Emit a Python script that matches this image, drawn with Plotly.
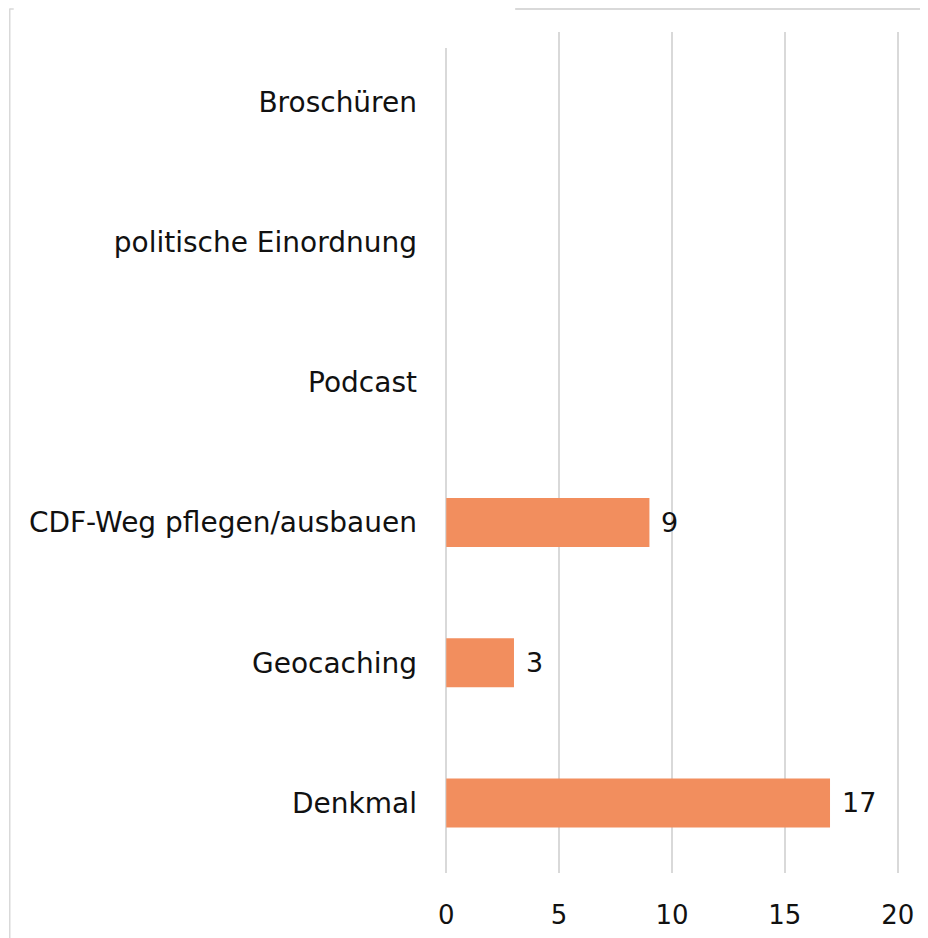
import plotly.graph_objects as go

categories = ["Denkmal", "Geocaching", "CDF-Weg pflegen/ausbauen", "Podcast", "politische Einordnung", "Broschüren"]
values = [17, 3, 9, 0, 0, 0]
x_ticks = [0, 5, 10, 15, 20]

FONT = "DejaVu Sans, Verdana, sans-serif"
TXT = "#111111"
GRID = "#d9d9d9"

# page is offset by the default 8px body margin -> work in figure coords
OFF = 8
W, H = 928 - OFF, 938 - OFF
PAD = 0.1                      # small range padding so edge gridlines show
PPU = (898 - 446) / 20.0       # pixels per unit
L = 446 - OFF - PAD * PPU
R = 898 - OFF + PAD * PPU
T, B = 32 - OFF, 873 - OFF

def px(xp):
    return (xp - OFF - L) / (R - L)
def py(yp):
    return (B - (yp - OFF)) / (B - T)

fig = go.Figure()
fig.add_trace(go.Bar(
    x=values, y=categories, orientation="h",
    marker=dict(color="#F28E5E", line=dict(width=0)),
    hoverinfo="x+y",
))

for c, v in zip(categories, values):
    if v:
        fig.add_annotation(x=v, y=c, text=str(v), showarrow=False,
                           xanchor="left", xshift=10,
                           font=dict(family=FONT, size=27, color=TXT))

# chart frame (partly cropped in the reference)
fig.add_shape(type="line", xref="paper", yref="paper",
              x0=px(9), x1=px(9), y0=py(8.5), y1=py(945),
              line=dict(color=GRID, width=1.5))
fig.add_shape(type="line", xref="paper", yref="paper",
              x0=px(9), x1=px(13), y0=py(9), y1=py(9),
              line=dict(color=GRID, width=1.5))
fig.add_shape(type="line", xref="paper", yref="paper",
              x0=px(515), x1=px(940), y0=py(9), y1=py(9),
              line=dict(color=GRID, width=2))
# top of the vertical axis line starts a bit lower than the gridlines
fig.add_shape(type="line", xref="x", yref="paper",
              x0=0, x1=0, y0=py(30), y1=py(48),
              line=dict(color="white", width=3))

fig.update_layout(
    width=W, height=H,
    margin=dict(l=L, r=W - R, t=T, b=H - B, autoexpand=False),
    paper_bgcolor="white", plot_bgcolor="white",
    bargap=0.65,
    showlegend=False,
    font=dict(family=FONT, size=26, color=TXT),
    xaxis=dict(range=[-PAD, 20 + PAD], tickvals=x_ticks, showgrid=True,
               gridcolor=GRID, gridwidth=1.5, zeroline=False,
               showline=False, ticks="", ticklabelstandoff=24,
               tickfont=dict(family=FONT, size=26, color=TXT),
               fixedrange=True),
    yaxis=dict(categoryorder="array", categoryarray=categories,
               showgrid=False, zeroline=False, showline=False, ticks="",
               ticklabelstandoff=26,
               tickfont=dict(family=FONT, size=28, color=TXT),
               fixedrange=True),
)

fig.write_html("out.html")
